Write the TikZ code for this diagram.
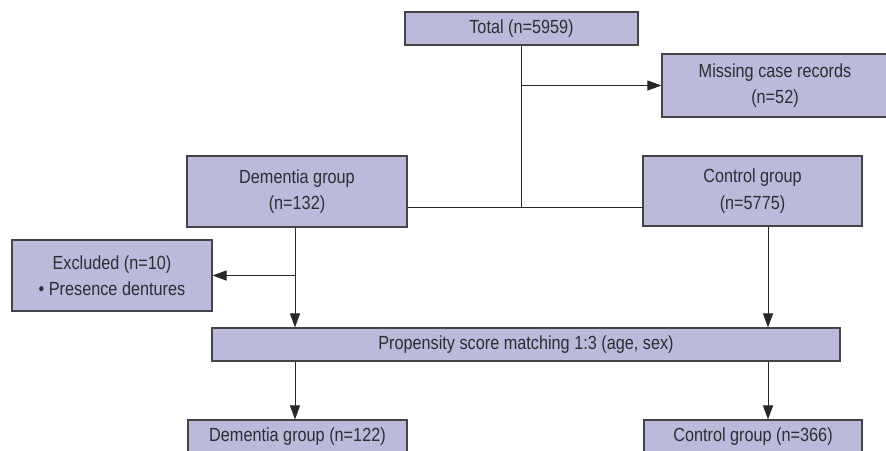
\documentclass[tikz,border=0pt]{standalone}
\usepackage{fontspec}
\setmainfont[FakeStretch=0.855]{Liberation Sans}
\usepackage{xcolor}
\usetikzlibrary{arrows.meta}
\definecolor{boxfill}{RGB}{187,186,218}
\definecolor{boxline}{RGB}{68,68,72}
\definecolor{linkgray}{RGB}{40,40,40}
\definecolor{textgray}{RGB}{45,45,50}
\tikzset{
  flowbox/.style={draw=boxline, fill=boxfill, line width=1.1pt, inner sep=0pt,
    align=center, text=textgray, font=\fontsize{19}{26.5}\selectfont},
  link/.style={draw=linkgray, line width=1pt}
}

\begin{document}
\begin{tikzpicture}[x=1pt, y=-1pt, >={Triangle[length=14pt, width=10pt]}]
    \useasboundingbox (0,0) rectangle (886,450);
    % Top row
    \node[flowbox, minimum width=233pt, minimum height=33pt] (total) at (521.5,28.5) {Total (n=5959)};
    \node[flowbox, minimum width=226pt, minimum height=63pt] (missing) at (775,85.5) {Missing case records\\(n=52)};
    % Groups
    \node[flowbox, minimum width=220pt, minimum height=71pt] (dementia) at (297,191.5) {Dementia group\\(n=132)};
    \node[flowbox, minimum width=219pt, minimum height=70pt] (control) at (752.5,191) {Control group\\(n=5775)};
    \node[flowbox, minimum width=200pt, minimum height=71pt] (excluded) at (112,275.5) {Excluded (n=10)\\\textbullet{} Presence dentures};
    % Matching
    \node[flowbox, minimum width=628pt, minimum height=33pt] (psm) at (526,344.5) {Propensity score matching 1:3 (age, sex)};
    \node[flowbox, minimum width=219pt, minimum height=34pt] (dementia2) at (297.5,437) {Dementia group (n=122)};
    \node[flowbox, minimum width=218pt, minimum height=34pt] (control2) at (753,437) {Control group (n=366)};
    % Junctions
    \coordinate (join) at (521.5,207);
    \coordinate (dline) at (295,0);
    \coordinate (cline) at (768,0);
    % Connectors
    \draw[link] (total.south) -- (join);
    \draw[link, ->] (total.south |- missing.west) -- (missing.west);
    \draw[link] (dementia.east |- join) -- (control.west |- join);
    \draw[link, ->] (dementia.south -| dline) -- (psm.north -| dline);
    \draw[link, ->] (excluded.east -| dline) -- (excluded.east);
    \draw[link, ->] (control.south -| cline) -- (psm.north -| cline);
    \draw[link, ->] (psm.south -| dline) -- (dementia2.north -| dline);
    \draw[link, ->] (psm.south -| cline) -- (control2.north -| cline);
\end{tikzpicture}
\end{document}
